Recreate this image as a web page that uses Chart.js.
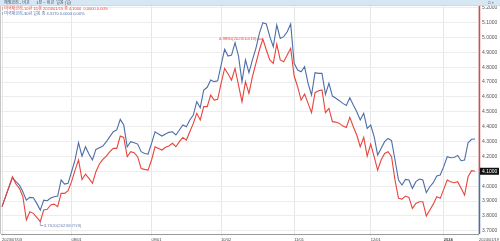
<!DOCTYPE html>
<html lang="ko">
<head>
<meta charset="utf-8">
<title>미국채금리 비교</title>
<script src="https://cdn.jsdelivr.net/npm/chart.js@4.4.1/dist/chart.umd.min.js"></script>
<style>
  html, body { margin: 0; padding: 0; background: #fff; }
  #wrap { position: relative; width: 500px; height: 241px; }
</style>
</head>
<body>
<div id="wrap"><canvas id="rate-chart" width="500" height="241"></canvas></div>
<script>
// trading-day index, 0 = 2023/07/03
const days = [0, 3, 4, 5, 6, 7, 8, 9, 10, 11, 12, 13, 14, 15, 16, 17, 18, 19, 20, 21,
  22, 23, 24, 25, 26, 27, 28, 29, 30, 31, 32, 33, 34, 35, 36, 37, 38, 39, 40, 41,
  42, 43, 44, 45, 46, 47, 48, 49, 50, 51, 52, 53, 54, 55, 56, 57, 58, 59, 60, 61,
  62, 63, 64, 65, 66, 67, 68, 69, 70, 71, 72, 73, 74, 75, 76, 77, 78, 79, 80, 81,
  82, 83, 84, 85, 86, 87, 88, 89, 90, 91, 92, 93, 94, 95, 96, 97, 98, 99, 100, 101,
  102, 103, 104, 105, 106, 107, 108, 109, 110, 111, 112, 113, 114, 115, 116, 117, 118, 119, 120, 121,
  122, 123, 124, 125, 126, 127, 128, 129, 130, 131, 132, 133, 134, 135, 136];

// 미국채금리-10년 (red)
const tenYear = [3.862, 4.063, 4.014, 3.985, 3.929, 3.772, 3.828, 3.817, 3.790, 3.762, 3.839, 3.844, 3.873, 3.879, 3.862, 3.951, 3.951, 3.969, 4.030, 4.108,
  4.176, 4.045, 4.081, 4.052, 4.019, 4.097, 4.149, 4.180, 4.202, 4.232, 4.254, 4.254, 4.337, 4.328, 4.198, 4.232, 4.225, 4.198, 4.119, 4.113,
  4.108, 4.176, 4.265, 4.254, 4.243, 4.261, 4.270, 4.288, 4.265, 4.299, 4.328, 4.310, 4.366, 4.422, 4.490, 4.445, 4.535, 4.535, 4.613, 4.579,
  4.584, 4.692, 4.792, 4.754, 4.714, 4.792, 4.680, 4.568, 4.703, 4.624, 4.736, 4.826, 4.916, 4.989, 4.916, 4.849, 4.826, 4.956, 4.849, 4.837,
  4.882, 4.927, 4.741, 4.669, 4.579, 4.620, 4.557, 4.494, 4.629, 4.642, 4.647, 4.494, 4.523, 4.434, 4.431, 4.422, 4.404, 4.395, 4.463, 4.400,
  4.344, 4.265, 4.328, 4.202, 4.283, 4.198, 4.108, 4.176, 4.220, 4.232, 4.198, 4.041, 3.918, 3.913, 3.933, 3.924, 3.850, 3.884, 3.895, 3.895,
  3.799, 3.839, 3.879, 3.929, 3.918, 3.978, 4.041, 4.030, 4.023, 4.030, 3.985, 3.940, 4.063, 4.104, 4.100];

// 미국채금리-30년 (blue)
const thirtyYear = [3.862, 4.057, 4.030, 4.007, 3.962, 3.906, 3.924, 3.922, 3.884, 3.839, 3.906, 3.902, 3.920, 3.929, 3.933, 4.041, 4.014, 4.019, 4.097, 4.176,
  4.292, 4.202, 4.265, 4.216, 4.176, 4.247, 4.259, 4.270, 4.299, 4.333, 4.366, 4.378, 4.449, 4.411, 4.265, 4.299, 4.292, 4.283, 4.232, 4.220,
  4.216, 4.288, 4.366, 4.351, 4.337, 4.351, 4.362, 4.366, 4.344, 4.378, 4.411, 4.400, 4.445, 4.478, 4.568, 4.528, 4.647, 4.665, 4.714, 4.703,
  4.709, 4.815, 4.920, 4.875, 4.882, 4.965, 4.875, 4.703, 4.849, 4.763, 4.849, 4.927, 5.028, 5.100, 5.091, 5.006, 4.938, 5.084, 4.994, 5.006,
  5.039, 5.091, 4.826, 4.781, 4.770, 4.804, 4.692, 4.613, 4.763, 4.759, 4.759, 4.617, 4.692, 4.606, 4.591, 4.575, 4.557, 4.543, 4.595, 4.546,
  4.501, 4.445, 4.490, 4.389, 4.411, 4.333, 4.209, 4.254, 4.299, 4.321, 4.306, 4.176, 4.041, 4.007, 4.045, 4.041, 3.985, 4.030, 4.048, 4.041,
  3.956, 3.996, 4.023, 4.068, 4.075, 4.131, 4.198, 4.191, 4.193, 4.207, 4.171, 4.176, 4.292, 4.315, 4.317];

const tickDays = [0, 20, 43, 63, 84, 106, 127];
const tickLabels = ['2023/07/03', '08/01', '09/01', '10/02', '11/01', '12/01', '2024'];
const lastDate = '2024/01/19';
const lowDate = '2023/07/19';
const highDate = '2023/10/19';

const RED = '#e8453c';
const BLUE = '#4d6ea8';
const FONT = '"Liberation Sans", "Noto Sans CJK KR", sans-serif';
const X_MIN = -0.29, X_MAX = 137.14;

const toPoints = vals => days.map((d, i) => ({ x: d, y: vals[i] }));

// title bar, legend, right axis line, current value box, high/low labels
const decor = {
  id: 'decor',
  afterDraw(chart) {
    const { ctx, chartArea: area, scales: { x, y } } = chart;
    ctx.save();

    // left frame
    ctx.strokeStyle = '#c4c4c4';
    ctx.lineWidth = 1;
    ctx.beginPath();
    ctx.moveTo(0.5, area.top);
    ctx.lineTo(0.5, area.bottom);
    ctx.stroke();

    // right axis line: red above the current value, blue below
    const last = tenYear[tenYear.length - 1];
    const ly = y.getPixelForValue(last);
    const ax = area.right + 0.5;
    ctx.lineWidth = 1.5;
    ctx.strokeStyle = RED;
    ctx.beginPath(); ctx.moveTo(ax, area.top); ctx.lineTo(ax, ly); ctx.stroke();
    ctx.strokeStyle = BLUE;
    ctx.beginPath(); ctx.moveTo(ax, ly); ctx.lineTo(ax, area.bottom); ctx.stroke();

    // current value box
    ctx.fillStyle = '#111';
    ctx.fillRect(area.right + 1, ly - 3.5, 19, 7);
    ctx.fillStyle = '#fff';
    ctx.font = '5px ' + FONT;
    ctx.textBaseline = 'middle';
    ctx.textAlign = 'left';
    ctx.fillText(last.toFixed(4), area.right + 3, ly + 0.3);

    // high label (10Y)
    const hi = Math.max(...tenYear);
    const hiIdx = tenYear.indexOf(hi);
    const hx = x.getPixelForValue(days[hiIdx]);
    const hy = y.getPixelForValue(hi);
    ctx.strokeStyle = RED;
    ctx.lineWidth = 0.8;
    ctx.beginPath(); ctx.moveTo(hx - 6, hy); ctx.lineTo(hx, hy); ctx.stroke();
    ctx.fillStyle = RED;
    ctx.font = '4.3px ' + FONT;
    ctx.textAlign = 'right';
    ctx.fillText(hi.toFixed(4) + '(' + highDate + ')', hx - 6.5, hy);

    // low label (10Y)
    const lo = Math.min(...tenYear);
    const loIdx = tenYear.indexOf(lo);
    const lx = x.getPixelForValue(days[loIdx]);
    const lyy = y.getPixelForValue(lo);
    ctx.strokeStyle = '#8193b8';
    ctx.beginPath(); ctx.moveTo(lx, lyy); ctx.lineTo(lx, lyy + 4); ctx.lineTo(lx + 3, lyy + 4); ctx.stroke();
    ctx.fillStyle = '#7085b0';
    ctx.textAlign = 'left';
    ctx.fillText(lo.toFixed(4) + '(' + lowDate + ')', lx + 3.5, lyy + 4);

    // title bar
    ctx.fillStyle = '#d7e6f3';
    ctx.fillRect(0, 0, 500, area.top);
    ctx.fillStyle = '#b9cfe3';
    ctx.fillRect(0, area.top - 0.5, 500, 0.5);
    ctx.fillStyle = '#33475e';
    ctx.font = '4px ' + FONT;
    ctx.fillText('해외금리 - 비교      1분 ~ 비교  일봉 (일)', 4, area.top / 2);
    ctx.fillText('□ ×', 488, area.top / 2);

    // legend
    ctx.font = '4px ' + FONT;
    ctx.fillStyle = RED;
    ctx.fillText('I 미국채금리-10년 1D봉 2024/01/19 종 4.1000  0.0000 0.00%', 2, area.top + 3);
    ctx.fillStyle = BLUE;
    ctx.fillText('I 미국채금리-30년 일봉 종 ' + thirtyYear[thirtyYear.length - 1].toFixed(4) + ' 0.0000 0.00%', 2, area.top + 8);

    ctx.restore();
  }
};

new Chart(document.getElementById('rate-chart'), {
  type: 'line',
  data: {
    datasets: [
      {
        label: '미국채금리-10년',
        data: toPoints(tenYear),
        borderColor: RED,
        borderWidth: 1.1,
        pointRadius: 0,
        tension: 0
      },
      {
        label: '미국채금리-30년',
        data: toPoints(thirtyYear),
        borderColor: BLUE,
        borderWidth: 1.1,
        pointRadius: 0,
        tension: 0
      }
    ]
  },
  options: {
    responsive: false,
    animation: false,
    devicePixelRatio: 1,
    layout: { padding: { top: 6, left: 1, right: 0, bottom: 0 } },
    plugins: {
      legend: { display: false },
      tooltip: { enabled: false }
    },
    scales: {
      x: {
        type: 'linear',
        min: X_MIN,
        max: X_MAX,
        afterBuildTicks: axis => {
          axis.ticks = tickDays.map(v => ({ value: v })).concat({ value: X_MAX });
        },
        afterFit: axis => { axis.height = 7; },
        ticks: {
          autoSkip: false,
          maxRotation: 0,
          align: 'start',
          padding: 1,
          color: '#444',
          font: c => ({ size: 4, family: FONT, weight: c.tick && c.tick.value === 127 ? 'bold' : 'normal' }),
          callback: v => {
            const i = tickDays.indexOf(v);
            return i >= 0 ? tickLabels[i] : lastDate;
          }
        },
        grid: { color: '#e6e6e6', tickLength: 2 },
        border: { color: '#9a9a9a' }
      },
      y: {
        position: 'right',
        min: 3.678,
        max: 5.212,
        afterFit: axis => { axis.width = 20; },
        ticks: {
          stepSize: 0.1,
          includeBounds: false,
          padding: 3,
          color: '#555',
          font: { size: 5, family: FONT },
          callback: v => v.toFixed(4)
        },
        grid: { color: '#ededed', drawTicks: false },
        border: { display: false }
      }
    }
  },
  plugins: [decor]
});
</script>
</body>
</html>
